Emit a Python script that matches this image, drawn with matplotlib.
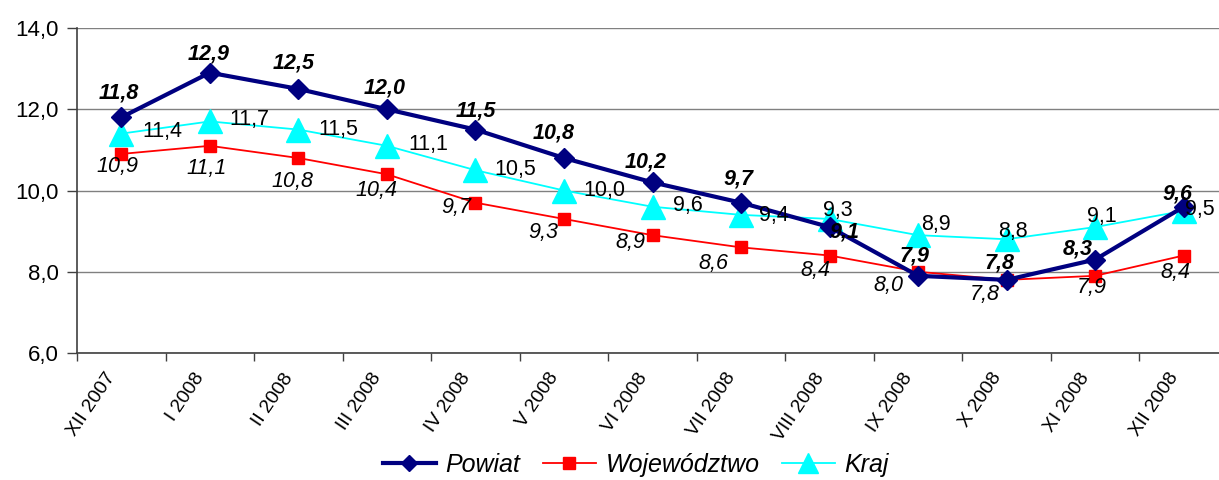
import matplotlib
matplotlib.use("Agg")
import matplotlib.pyplot as plt
from matplotlib.ticker import FuncFormatter, FixedLocator
from matplotlib.lines import Line2D
from matplotlib.transforms import Affine2D

categories = ["XII 2007", "I 2008", "II 2008", "III 2008", "IV 2008", "V 2008",
              "VI 2008", "VII 2008", "VIII 2008", "IX 2008", "X 2008", "XI 2008", "XII 2008"]
powiat = [11.8, 12.9, 12.5, 12.0, 11.5, 10.8, 10.2, 9.7, 9.1, 7.9, 7.8, 8.3, 9.6]
wojewodztwo = [10.9, 11.1, 10.8, 10.4, 9.7, 9.3, 8.9, 8.6, 8.4, 8.0, 7.8, 7.9, 8.4]
kraj = [11.4, 11.7, 11.5, 11.1, 10.5, 10.0, 9.6, 9.4, 9.3, 8.9, 8.8, 9.1, 9.5]
series_names = ["Powiat", "Województwo", "Kraj"]

# label offsets in pixels (dx, dy), dy positive = up
off_p = [(-2, 24), (-1, 19), (-5, 26), (-2, 21), (0, 19), (-10, 25), (-7, 20), (-3, 24),
         (15, -5), (-4, 20), (-7, 17), (-17, 11), (-6, 13)]
off_w = [(-4, -13), (-3, -23), (-6, -24), (-10, -16), (-19, -5), (-21, -14), (-22, -7),
         (-28, -16), (-14, -15), (-30, -14), (-22, -15), (-3, -12), (-8, -17)]
off_k = [(41, 2), (40, 2), (40, 0), (41, 1), (40, 1), (40, 0), (35, 1), (33, -1),
         (8, 8), (18, 11), (6, 8), (7, 11), (16, 1)]

plt.rcParams['font.family'] = ['Liberation Sans', 'DejaVu Sans']

fig = plt.figure(figsize=(12.19, 4.80), dpi=100)
W, H = 1219, 480
left, right, top, bottom = 77, 1228, 28, 353
ax = fig.add_axes([left / W, 1 - bottom / H, (right - left) / W, (bottom - top) / H])

x = list(range(len(categories)))
c_p, c_w, c_k = "#000080", "#FF0000", "#00FFFF"

ax.plot(x, kraj, color=c_k, lw=1.3, marker="^", ms=17, mec=c_k, mfc=c_k, zorder=3, clip_on=False)
ax.plot(x, wojewodztwo, color=c_w, lw=1.3, marker="s", ms=9, mec=c_w, mfc=c_w, zorder=4, clip_on=False)
ax.plot(x, powiat, color=c_p, lw=3, marker="D", ms=10, mec=c_p, mfc=c_p, zorder=5, clip_on=False)

fmt = lambda v: f"{v:.1f}".replace(".", ",")
for i in x:
    ax.annotate(fmt(powiat[i]), (i, powiat[i]), xytext=off_p[i], textcoords="offset pixels",
                ha="center", va="center", fontsize=15.5, fontweight="bold", fontstyle="italic", zorder=6)
    ax.annotate(fmt(wojewodztwo[i]), (i, wojewodztwo[i]), xytext=off_w[i], textcoords="offset pixels",
                ha="center", va="center", fontsize=15.5, fontstyle="italic", zorder=6)
    ax.annotate(fmt(kraj[i]), (i, kraj[i]), xytext=off_k[i], textcoords="offset pixels",
                ha="center", va="center", fontsize=15.5, zorder=6)

ax.set_xlim(-0.5, len(categories) - 0.5)
ax.set_ylim(6, 14)
ax.set_yticks([6, 8, 10, 12, 14])
ax.yaxis.set_major_formatter(FuncFormatter(lambda v, p: fmt(v)))
ax.grid(axis="y", color="#808080", lw=1)
ax.set_axisbelow(True)

ax.set_xticks(x)
ax.set_xticklabels(categories, rotation=56, ha="right", va="top", rotation_mode="anchor", fontsize=14)
ax.tick_params(axis="x", which="major", length=0, pad=10)
shift = Affine2D().translate(-16, -3)
for lab in ax.get_xticklabels():
    lab.set_transform(lab.get_transform() + shift)
ax.xaxis.set_minor_locator(FixedLocator([i - 0.5 for i in range(len(categories) + 1)]))
ax.tick_params(axis="x", which="minor", length=6, color="#404040", width=1)
ax.tick_params(axis="y", length=7, color="#404040", width=1, labelsize=16, pad=6)

for s in ["top", "right"]:
    ax.spines[s].set_visible(False)
for s in ["left", "bottom"]:
    ax.spines[s].set_color("#404040")
    ax.spines[s].set_linewidth(1.2)

handles = [
    Line2D([], [], color=c_p, lw=3, marker="D", ms=8, mfc=c_p, mec=c_p),
    Line2D([], [], color=c_w, lw=1.3, marker="s", ms=9, mfc=c_w, mec=c_w),
    Line2D([], [], color=c_k, lw=1.3, marker="^", ms=15, mfc=c_k, mec=c_k),
]
fig.legend(handles, series_names, loc="center", bbox_to_anchor=(636 / W, 1 - 465 / H), ncol=3,
           frameon=False, prop={"size": 18, "style": "italic"}, handlelength=2.1,
           columnspacing=0.9, handletextpad=0.4, borderaxespad=0)

fig.savefig("out.png", dpi=100)
